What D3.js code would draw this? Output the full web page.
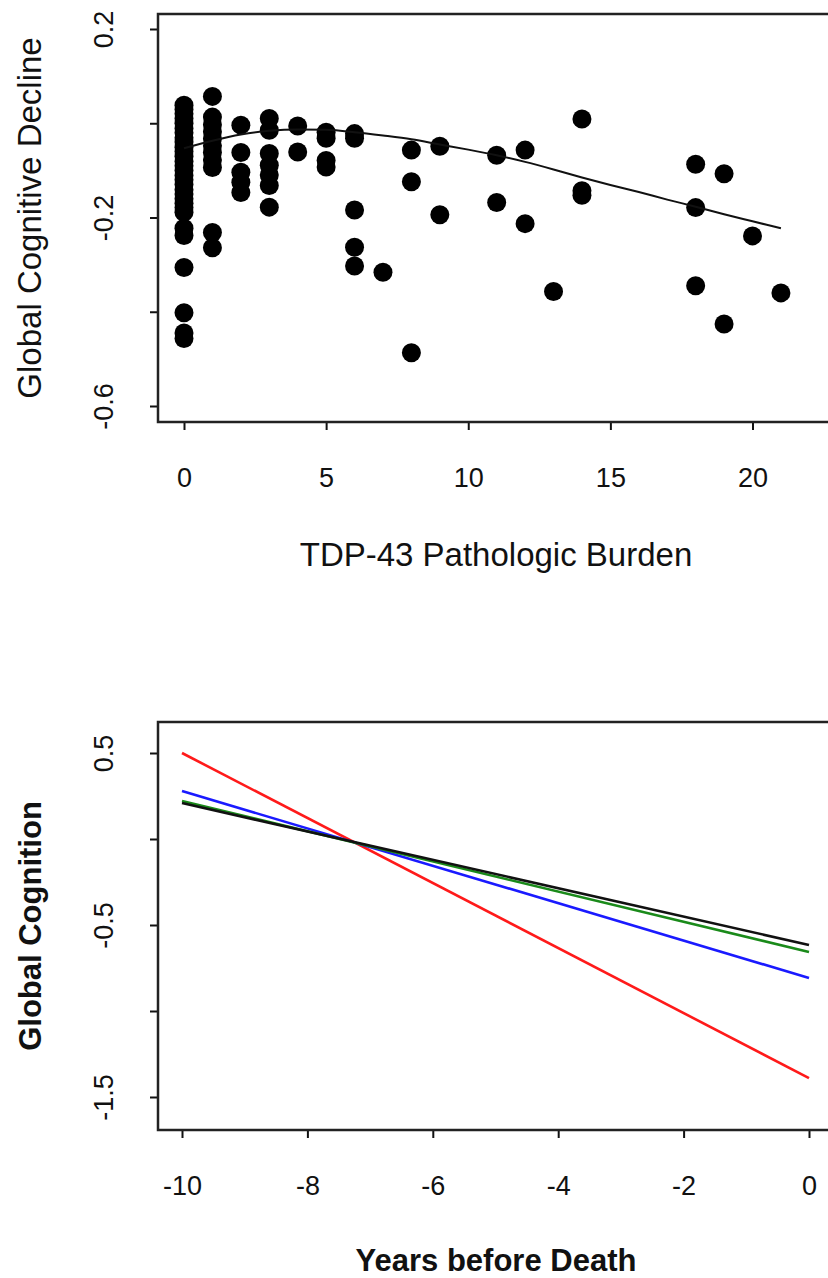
<!DOCTYPE html>
<html>
<head>
<meta charset="utf-8">
<script src="https://cdn.jsdelivr.net/npm/d3@7"></script>
<style>
  body { margin: 0; background: #fff; }
  text { font-family: "Liberation Sans", Arial, sans-serif; fill: #111; }
</style>
</head>
<body>
<script>
// Panel A data: TDP-43 burden vs global cognitive decline (one value per subject)
var burden = [
  0,0,0,0,0,0,0,0,0,0,0,0,0,0,0,0,0,0,0,0,0,0,0,0,0,0,0,0,0,0,
  1,1,1,1,1,1,1,1,1,1,1,
  2,2,2,2,2,
  3,3,3,3,3,3,3,
  4,4,
  5,5,5,5,
  6,6,6,6,6,
  7,
  8,8,8,
  9,9,
  11,11,
  12,12,
  13,
  14,14,14,
  18,18,18,
  19,19,
  20,
  21
];
var decline = [
  0.038,0.029,0.02,0.01,0.0,-0.011,-0.02,-0.031,-0.04,-0.051,-0.06,-0.07,-0.081,-0.09,-0.1,
  -0.111,-0.12,-0.13,-0.141,-0.15,-0.16,-0.17,-0.179,-0.189,-0.223,-0.238,-0.306,-0.402,-0.445,-0.457,
  0.057,0.013,-0.003,-0.018,-0.033,-0.048,-0.062,-0.078,-0.094,-0.232,-0.264,
  -0.004,-0.062,-0.104,-0.125,-0.147,
  0.01,-0.015,-0.064,-0.089,-0.11,-0.132,-0.178,
  -0.006,-0.061,
  -0.019,-0.032,-0.079,-0.093,
  -0.022,-0.032,-0.184,-0.263,-0.303,
  -0.316,
  -0.057,-0.124,-0.487,
  -0.049,-0.194,
  -0.068,-0.168,
  -0.057,-0.213,
  -0.357,
  0.009,-0.143,-0.153,
  -0.087,-0.179,-0.345,
  -0.107,-0.426,
  -0.239,
  -0.36
];
// smoothed fit drawn over the points
var smoothX = [0,1,2,3,4,5,6,7,8,9,10,11,12,13,14,15,16,17,18,19,20,21];
var smoothY = [-0.053,-0.037,-0.024,-0.016,-0.013,-0.014,-0.019,-0.026,-0.034,-0.045,-0.056,
  -0.068,-0.082,-0.098,-0.115,-0.131,-0.146,-0.162,-0.177,-0.193,-0.208,-0.223];
var burdenTicks = [0, 5, 10, 15, 20];
var declineTicks = [0.2, 0, -0.2, -0.4, -0.6];
var declineLabels = ["0.2", "", "-0.2", "", "-0.6"];

// Panel B data: predicted trajectories, value at 10 years and at death
var years = [-10, 0];
var groupNames = ["red", "blue", "green", "black"];
var groupColors = ["#ff1a1a", "#1a1aff", "#1a8a1a", "#111111"];
var groupStart = [0.5, 0.279, 0.221, 0.209];
var groupEnd = [-1.39, -0.808, -0.657, -0.616];
var yearTicks = [-10, -8, -6, -4, -2, 0];
var cognitionTicks = [0.5, 0, -0.5, -1, -1.5];
var cognitionLabels = ["0.5", "", "-0.5", "", "-1.5"];

var svgWidth = 828;
var svgHeight = 1278;

var svg = d3.select("body")
  .append("svg")
  .attr("width", svgWidth)
  .attr("height", svgHeight);

var boxLeft = 158, boxRight = 836;

// ---------- top panel ----------
var top1 = 14, bottom1 = 422;
var xA = d3.scaleLinear().domain([0, 20]).range([184, 752.5]);
var yA = d3.scaleLinear().domain([0.2, -0.6]).range([29, 406]);

var gA = svg.append("g");

gA.selectAll("circle")
  .data(burden)
  .enter()
  .append("circle")
  .attr("cx", d => xA(d))
  .attr("cy", (d, i) => yA(decline[i]))
  .attr("r", 9.5)
  .attr("fill", "#000");

var smoothLine = d3.line()
  .x(d => xA(d))
  .y((d, i) => yA(smoothY[i]))
  .curve(d3.curveMonotoneX);

gA.append("path")
  .datum(smoothX)
  .attr("d", smoothLine)
  .attr("fill", "none")
  .attr("stroke", "#111")
  .attr("stroke-width", 2);

function styleAxis(g) {
  g.select(".domain").remove();
  g.selectAll(".tick line").attr("stroke", "#111").attr("stroke-width", 2);
  g.selectAll(".tick text").style("font-size", "27px").attr("fill", "#111");
}

// plain hyphen minus like the original plot
var plainFmt = d => String(d);

gA.append("g")
  .attr("transform", `translate(0, ${bottom1})`)
  .call(d3.axisBottom(xA).tickValues(burdenTicks).tickSize(8).tickPadding(38).tickFormat(plainFmt))
  .call(styleAxis);

var yAxisA = gA.append("g")
  .attr("transform", `translate(${boxLeft}, 0)`)
  .call(d3.axisLeft(yA).tickValues(declineTicks).tickSize(8).tickFormat((d, i) => declineLabels[i]))
  .call(styleAxis);

// R style rotated y tick labels
yAxisA.selectAll(".tick text")
  .attr("x", 0).attr("dy", null).attr("y", 0)
  .attr("text-anchor", "middle")
  .attr("transform", "translate(-45, 0) rotate(-90)");

gA.append("rect")
  .attr("x", boxLeft).attr("y", top1)
  .attr("width", boxRight - boxLeft).attr("height", bottom1 - top1)
  .attr("fill", "none").attr("stroke", "#222").attr("stroke-width", 2.5);

gA.append("text")
  .attr("transform", `translate(41, ${(top1 + bottom1) / 2}) rotate(-90)`)
  .attr("text-anchor", "middle")
  .style("font-size", "33px")
  .text("Global Cognitive Decline");

gA.append("text")
  .attr("x", (boxLeft + boxRight) / 2 - 1)
  .attr("y", 566)
  .attr("text-anchor", "middle")
  .style("font-size", "33px")
  .text("TDP-43 Pathologic Burden");

// ---------- bottom panel ----------
var top2 = 722, bottom2 = 1130;
var xB = d3.scaleLinear().domain([-10, 0]).range([182, 809]);
var yB = d3.scaleLinear().domain([0.5, -1.5]).range([753, 1097]);

var gB = svg.append("g");

gB.selectAll("path.traj")
  .data(groupNames)
  .enter()
  .append("path")
  .attr("class", "traj")
  .attr("d", (d, i) => d3.line().x(t => xB(t)).y((t, j) => yB(j === 0 ? groupStart[i] : groupEnd[i]))(years))
  .attr("fill", "none")
  .attr("stroke", (d, i) => groupColors[i])
  .attr("stroke-width", 2.6);

gB.append("g")
  .attr("transform", `translate(0, ${bottom2})`)
  .call(d3.axisBottom(xB).tickValues(yearTicks).tickSize(8).tickPadding(38).tickFormat(plainFmt))
  .call(styleAxis);

var yAxisB = gB.append("g")
  .attr("transform", `translate(${boxLeft}, 0)`)
  .call(d3.axisLeft(yB).tickValues(cognitionTicks).tickSize(8).tickFormat((d, i) => cognitionLabels[i]))
  .call(styleAxis);

yAxisB.selectAll(".tick text")
  .attr("x", 0).attr("dy", null).attr("y", 0)
  .attr("text-anchor", "middle")
  .attr("transform", "translate(-45, 0) rotate(-90)");

gB.append("rect")
  .attr("x", boxLeft).attr("y", top2)
  .attr("width", boxRight - boxLeft).attr("height", bottom2 - top2)
  .attr("fill", "none").attr("stroke", "#222").attr("stroke-width", 2.5);

gB.append("text")
  .attr("transform", `translate(41, ${(top2 + bottom2) / 2}) rotate(-90)`)
  .attr("text-anchor", "middle")
  .style("font-size", "31px")
  .style("font-weight", "bold")
  .text("Global Cognition");

gB.append("text")
  .attr("x", (boxLeft + boxRight) / 2 - 1)
  .attr("y", 1271)
  .attr("text-anchor", "middle")
  .style("font-size", "31px")
  .style("font-weight", "bold")
  .text("Years before Death");
</script>
</body>
</html>
